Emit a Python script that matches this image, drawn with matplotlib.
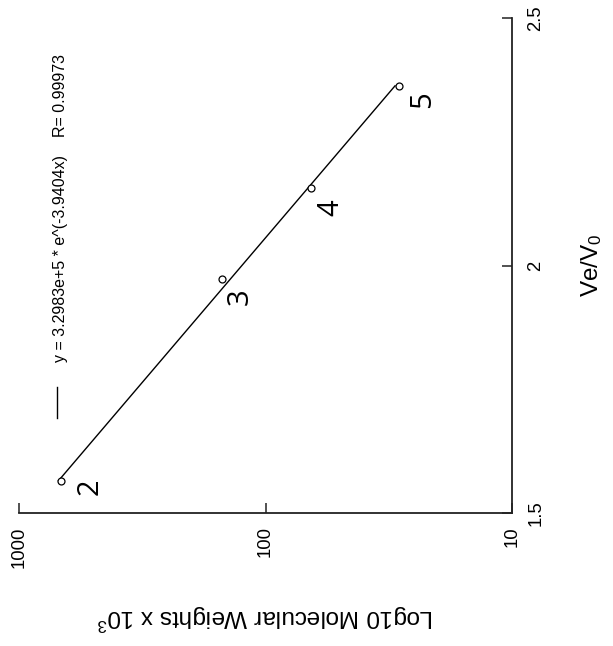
"""
Gel filtration calibration: log molecular weight vs Ve/V0 (figure drawn rotated 90 degrees).
"""

import numpy as np
import matplotlib
matplotlib.use('Agg')
import matplotlib.pyplot as plt

plt.rcParams.update({
    'font.family': 'Liberation Sans',
    'mathtext.fontset': 'custom',
    'mathtext.rm': 'Liberation Sans',
    'mathtext.it': 'Liberation Sans:italic',
})

# ---------------------------------------------------------------------
# data
# ---------------------------------------------------------------------
standard_labels = ['2', '3', '4', '5']
ve_v0 = [1.565, 1.973, 2.157, 2.363]
mol_weight = [675.0, 150.0, 65.3, 28.7]

# exponential fit shown in the legend
fit_a = 3.2983e5
fit_b = -3.9404
fit_r = 0.99973
fit_range = [1.565, 2.363]

x_ticks = [1000, 100, 10]
x_tick_labels = ['1000', '100', '10']
y_ticks = [1.5, 2.0, 2.5]
y_tick_labels = ['1.5', '2', '2.5']

# label offsets from each point, in points (dx, dy)
label_offsets = [(21, -4), (13, -13), (14, -14), (17, -10)]

fit_x = np.array(fit_range)
fit_y = fit_a * np.exp(fit_b * fit_x)

# ---------------------------------------------------------------------
# figure
# ---------------------------------------------------------------------
fig = plt.figure(figsize=(6.13, 6.46), dpi=100)
ax = fig.add_axes([19/613, 1 - 513/646, 493/613, 495/646])

ax.plot(fit_y, fit_x, color='black', lw=1.0)
ax.plot(mol_weight, ve_v0, 'o', ms=5, mfc='white', mec='black', mew=0.9, zorder=3)

for lab, mw, v, off in zip(standard_labels, mol_weight, ve_v0, label_offsets):
    ax.annotate(lab, (mw, v), xytext=off, textcoords='offset points',
                rotation=90, ha='center', va='center', fontsize=21,
                family='Open Sans')

ax.set_xscale('log')
ax.set_xlim(1000, 10)
ax.set_ylim(1.5, 2.5)
ax.minorticks_off()

for side in ['top', 'left']:
    ax.spines[side].set_visible(False)
for side in ['bottom', 'right']:
    ax.spines[side].set_linewidth(1.3)
    ax.spines[side].set_color('#222222')

ax.set_xticks(x_ticks)
ax.set_xticklabels(x_tick_labels, rotation=90, ha='center', va='top')
ax.yaxis.tick_right()
ax.set_yticks(y_ticks)
ax.set_yticklabels(y_tick_labels, rotation=90, ha='left', va='center')
ax.tick_params(axis='x', direction='in', length=7.2, width=1.1, pad=9.5,
               labelsize=13.3, color='#222222')
ax.tick_params(axis='y', direction='in', length=7.2, width=1.1, pad=11,
               labelsize=13.3, color='#222222', left=False, right=True)

ax.set_xlabel('Log10 Molecular Weights x 10$^3$', fontsize=17.5, rotation=180)
ax.xaxis.label.set_va('center')
ax.xaxis.set_label_coords(0.5, -0.21)

ax.yaxis.set_label_position('right')
ax.set_ylabel('Ve/V$_0$', fontsize=17.5, rotation=90, va='center', ha='center')
ax.yaxis.set_label_coords(1.162, 0.5)

# legend drawn by hand because it is rotated
ax.plot([0.077, 0.077], [0.192, 0.2545], color='black', lw=1.0,
        transform=ax.transAxes, clip_on=False)
ax.text(0.085, 0.305,
        'y = 3.2983e+5 * e^(-3.9404x)    R= %.5f' % fit_r,
        rotation=90, ha='center', va='bottom', fontsize=11.5,
        transform=ax.transAxes)

fig.savefig('out.png', dpi=100)
